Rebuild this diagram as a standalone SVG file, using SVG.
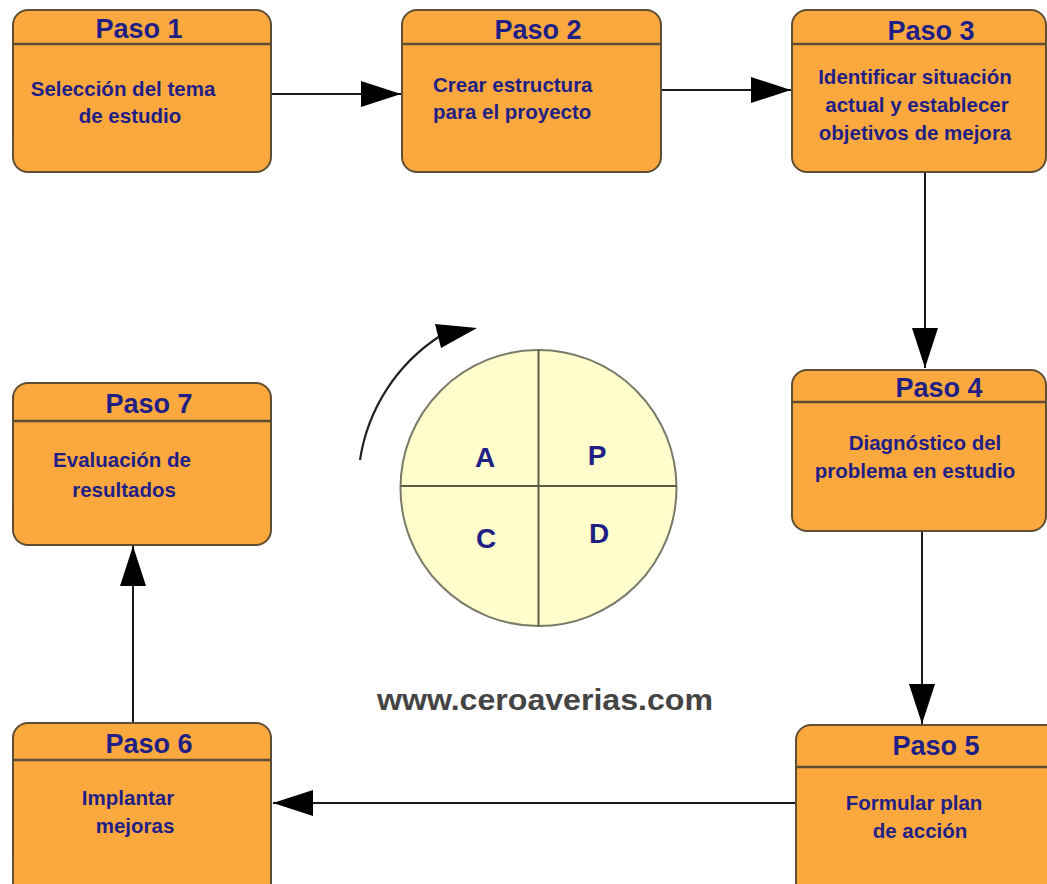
<svg xmlns="http://www.w3.org/2000/svg" width="1047" height="884" viewBox="0 0 1047 884">
  <style>
    .box { fill: #FBA83F; stroke: #5e4e34; stroke-width: 2; }
    .sep { stroke: #5e4e34; stroke-width: 2.5; }
    .title { font-family: "Liberation Sans", Arial, sans-serif; font-weight: bold; font-size: 27px; fill: #1f1f86; text-anchor: middle; }
    .body { font-family: "Liberation Sans", Arial, sans-serif; font-weight: bold; font-size: 20.5px; fill: #1f1f86; text-anchor: middle; }
    .conn { stroke: #1a1a1a; stroke-width: 2; fill: none; }
    .letter { font-family: "Liberation Sans", Arial, sans-serif; font-weight: bold; font-size: 28px; fill: #1f1f86; text-anchor: middle; }
    .web { font-family: "Liberation Sans", Arial, sans-serif; font-weight: bold; font-size: 30px; fill: #444444; }
  </style>
  <defs>
    <marker id="arrow" markerUnits="userSpaceOnUse" markerWidth="40" markerHeight="28" refX="40" refY="14" orient="auto">
      <path d="M0,1 L40,14 L0,27 Z" fill="#000"/>
    </marker>
  </defs>

  <rect width="1047" height="884" fill="#ffffff"/>

  <!-- connectors -->
  <g id="connectors">
    <path class="conn" d="M272,94 L401,94" marker-end="url(#arrow)"/>
    <path class="conn" d="M662,90 L791,90" marker-end="url(#arrow)"/>
    <path class="conn" d="M925,172 L925,368" marker-end="url(#arrow)"/>
    <path class="conn" d="M922,531 L922,724" marker-end="url(#arrow)"/>
    <path class="conn" d="M796,803 L273,803" marker-end="url(#arrow)"/>
    <path class="conn" d="M133,723 L133,546" marker-end="url(#arrow)"/>
  </g>

  <!-- step boxes -->
  <g id="paso1">
    <rect class="box" x="13" y="10" width="258" height="162" rx="15"/>
    <line class="sep" x1="13" y1="44" x2="271" y2="44"/>
    <text class="title" x="139" y="38">Paso 1</text>
    <text class="body" x="123" y="96">Selección del tema</text>
    <text class="body" x="130" y="123">de estudio</text>
  </g>

  <g id="paso2">
    <rect class="box" x="402" y="10" width="259" height="162" rx="15"/>
    <line class="sep" x1="402" y1="44" x2="661" y2="44"/>
    <text class="title" x="538" y="39">Paso 2</text>
    <text class="body" x="433" y="92" text-anchor="start" style="text-anchor:start">Crear estructura</text>
    <text class="body" x="433" y="119" style="text-anchor:start">para el proyecto</text>
  </g>

  <g id="paso3">
    <rect class="box" x="792" y="10" width="254" height="162" rx="15"/>
    <line class="sep" x1="792" y1="44" x2="1046" y2="44"/>
    <text class="title" x="931" y="40">Paso 3</text>
    <text class="body" x="915" y="84">Identificar situación</text>
    <text class="body" x="917" y="112">actual y establecer</text>
    <text class="body" x="915" y="140">objetivos de mejora</text>
  </g>

  <g id="paso4">
    <rect class="box" x="792" y="370" width="254" height="161" rx="15"/>
    <line class="sep" x1="792" y1="402" x2="1046" y2="402"/>
    <text class="title" x="939" y="397">Paso 4</text>
    <text class="body" x="925" y="450">Diagnóstico del</text>
    <text class="body" x="915" y="478">problema en estudio</text>
  </g>

  <g id="paso5">
    <rect class="box" x="796" y="725" width="265" height="180" rx="15"/>
    <line class="sep" x1="796" y1="767" x2="1047" y2="767"/>
    <text class="title" x="936" y="755">Paso 5</text>
    <text class="body" x="914" y="810">Formular plan</text>
    <text class="body" x="920" y="838">de acción</text>
  </g>

  <g id="paso6">
    <rect class="box" x="13" y="723" width="258" height="180" rx="15"/>
    <line class="sep" x1="13" y1="760" x2="271" y2="760"/>
    <text class="title" x="149" y="753">Paso 6</text>
    <text class="body" x="128" y="805">Implantar</text>
    <text class="body" x="135" y="833">mejoras</text>
  </g>

  <g id="paso7">
    <rect class="box" x="13" y="383" width="258" height="162" rx="15"/>
    <line class="sep" x1="13" y1="421" x2="271" y2="421"/>
    <text class="title" x="149" y="413">Paso 7</text>
    <text class="body" x="122" y="467">Evaluación de</text>
    <text class="body" x="124" y="497">resultados</text>
  </g>

  <!-- PDCA wheel -->
  <g id="pdca">
    <circle cx="538.5" cy="488" r="138" fill="#FEFDCB" stroke="#7a7a6a" stroke-width="2"/>
    <line x1="538.5" y1="350" x2="538.5" y2="626" stroke="#5a5a48" stroke-width="2"/>
    <line x1="400.5" y1="486" x2="676.5" y2="486" stroke="#5a5a48" stroke-width="2"/>
    <text class="letter" x="485" y="467">A</text>
    <text class="letter" x="597" y="465">P</text>
    <text class="letter" x="486" y="548">C</text>
    <text class="letter" x="599" y="543">D</text>
  </g>

  <!-- rotation arrow -->
  <g id="rotation">
    <path d="M360,460 A180,180 0 0,1 440,336" fill="none" stroke="#222" stroke-width="2.2"/>
    <path d="M435,324 L477,328 L441,348 Z" fill="#000"/>
  </g>

  <text class="web" x="377" y="710" textLength="336" lengthAdjust="spacingAndGlyphs">www.ceroaverias.com</text>
</svg>
